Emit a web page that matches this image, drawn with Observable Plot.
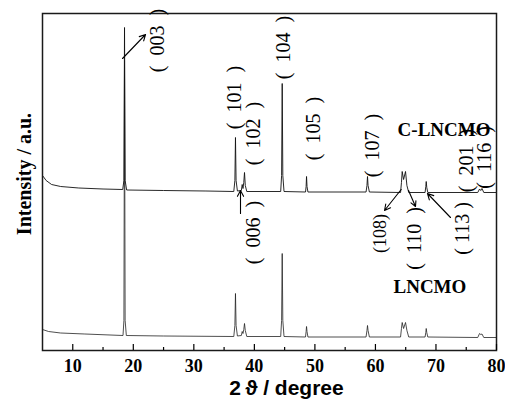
<!DOCTYPE html>
<html>
<head>
<meta charset="utf-8">
<script src="https://cdn.jsdelivr.net/npm/d3@7"></script>
<script src="https://cdn.jsdelivr.net/npm/@observablehq/plot@0.6"></script>
<style>
  html, body { margin: 0; padding: 0; background: #fff; }
  #chart { width: 505px; height: 402px; }
</style>
</head>
<body>
<div id="chart"></div>
<script>
// ---- data (2θ in degrees, intensity in arbitrary units) ----
const xTicks = [10, 20, 30, 40, 50, 60, 70, 80];
const xMinorTicks = [15, 25, 35, 45, 55, 65, 75];

// C-LNCMO pattern (upper trace)
const cLncmo = [
  [5.0, 175], [5.6, 170], [6.5, 166], [8, 164], [11, 162.5], [15, 161.5],
  [18.25, 161], [18.45, 170], [18.55, 323], [18.65, 170], [18.9, 160.5],
  [25, 160], [32, 159.5],
  [36.6, 159], [36.78, 170], [36.88, 213], [36.98, 170], [37.2, 159.5],
  [37.85, 160], [37.99, 166], [38.12, 162], [38.25, 168], [38.37, 178], [38.5, 165], [38.75, 159],
  [44.35, 159], [44.5, 175], [44.6, 267], [44.7, 175], [44.9, 159],
  [48.45, 158.5], [48.55, 164], [48.62, 174], [48.7, 164], [48.85, 158.5],
  [58.45, 158.5], [58.6, 165], [58.69, 174], [58.78, 165], [59.0, 158.5],
  [64.15, 158], [64.3, 168], [64.42, 179], [64.65, 171], [64.97, 179], [65.2, 165], [65.5, 158],
  [68.2, 158], [68.32, 164], [68.39, 169], [68.48, 163], [68.65, 158],
  [76.9, 158], [77.2, 161.5], [77.4, 160], [77.6, 162], [77.9, 158], [80, 158]
];

// LNCMO pattern (lower trace)
const lncmo = [
  [5.0, 21], [6, 19], [8, 17.5], [12, 16.5],
  [18.3, 15], [18.45, 30], [18.55, 290], [18.65, 30], [18.85, 15],
  [25, 14.5],
  [36.6, 14], [36.78, 25], [36.88, 57], [36.98, 25], [37.2, 14.5],
  [37.85, 15], [37.99, 19], [38.12, 17], [38.25, 21], [38.37, 27], [38.5, 20], [38.75, 14],
  [44.35, 14], [44.5, 30], [44.6, 97], [44.7, 30], [44.9, 14],
  [48.45, 13.5], [48.55, 19], [48.62, 24], [48.7, 19], [48.85, 13.5],
  [58.45, 13.5], [58.6, 20], [58.69, 25], [58.78, 20], [59.0, 13.5],
  [64.15, 13.5], [64.3, 22], [64.42, 28], [64.65, 22], [64.97, 28], [65.2, 20], [65.5, 13.5],
  [68.2, 13.5], [68.32, 18], [68.39, 22], [68.48, 18], [68.65, 13.5],
  [76.9, 13], [77.2, 17], [77.4, 16], [77.6, 16.5], [77.9, 13], [80, 13]
];

// Miller index labels
const hklText = ["(\u2002003\u2002)", "(\u2002101\u2002)", "(\u2002102\u2002)", "(\u2002104\u2002)",
                 "(\u2002105\u2002)", "(\u2002107\u2002)", "(\u2002201\u2002)", "(\u2002116\u2002)",
                 "(\u2002006\u2002)", "(\u2002110\u2002)", "( 113 )"];
const hklX = [24.0, 36.8, 39.86, 44.82, 49.77, 59.52, 75.05, 78.0, 39.86, 66.46, 74.39];
const hklY = [310, 253, 217, 303, 222, 205, 190, 193, 118, 112, 122];
const smallHkl = [{t: "(108)", x: 60.84, y: 117}];

// sample names
const sampleNames = ["C-LNCMO", "LNCMO"];
const sampleX = [71.33, 69.0];
const sampleY = [221, 64];

// arrows [x1, y1, x2, y2] (head at second point)
const arrowList = [
  [18.22, 292, 22.02, 316],
  [37.71, 137, 37.71, 160],
  [64.25, 161, 61.5, 140],
  [65.47, 160, 66.62, 144],
  [72.4, 133, 68.6, 157]
];

const hkl = hklText.map((t, i) => ({t, x: hklX[i], y: hklY[i]}));
const samples = sampleNames.map((t, i) => ({t, x: sampleX[i], y: sampleY[i]}));
const arrows = arrowList.map(a => ({x1: a[0], y1: a[1], x2: a[2], y2: a[3]}));

const serif = "'Liberation Serif', 'Times New Roman', serif";

const svg = Plot.plot({
  width: 505,
  height: 402,
  marginLeft: 42,
  marginRight: 9,
  marginTop: 13,
  marginBottom: 52,
  x: {domain: [5, 80], label: null},
  y: {domain: [0, 337], axis: null},
  style: {fontFamily: serif, background: "#fff", color: "#000"},
  marks: [
    Plot.line(lncmo, {x: d => d[0], y: d => d[1], stroke: "#222", strokeWidth: 0.8}),
    Plot.line(cLncmo, {x: d => d[0], y: d => d[1], stroke: "#111", strokeWidth: 0.9}),
    Plot.frame({stroke: "#1a1a1a", strokeWidth: 1.5}),
    Plot.axisX({ticks: xTicks, tickSize: -6, tickFormat: () => "", label: null, strokeWidth: 1.2}),
    Plot.axisX({ticks: xMinorTicks, tickSize: -3, tickFormat: () => "", label: null, strokeWidth: 1.2}),
    Plot.axisX({ticks: xTicks, tickSize: 0, tickPadding: 9, label: null,
                fontSize: 18, fontWeight: "bold", fontFamily: serif}),
    Plot.text(hkl, {x: "x", y: "y", text: "t", rotate: -90, fontSize: 20, fontFamily: serif, fill: "#000"}),
    Plot.text(smallHkl, {x: "x", y: "y", text: "t", rotate: -90, fontSize: 18, fontFamily: serif, fill: "#000"}),
    Plot.text(samples, {x: "x", y: "y", text: "t", fontSize: 19, fontWeight: "bold", fontFamily: serif, fill: "#000"}),
    Plot.arrow(arrows, {x1: "x1", y1: "y1", x2: "x2", y2: "y2", stroke: "#000", strokeWidth: 1.1, headLength: 9, headAngle: 55})
  ]
});

const s = d3.select(svg);
s.append("text")
  .attr("x", 286.5).attr("y", 395)
  .attr("text-anchor", "middle")
  .style("font-family", "'Liberation Sans', Arial, sans-serif")
  .style("font-weight", "bold")
  .style("font-size", "21px")
  .attr("fill", "#000")
  .text("2\u2009\u03D1 / degree");
s.append("text")
  .attr("transform", "translate(31,174) rotate(-90)")
  .attr("text-anchor", "middle")
  .style("font-family", serif)
  .style("font-weight", "bold")
  .style("font-size", "20px")
  .attr("fill", "#000")
  .text("Intensity / a.u.");

document.getElementById("chart").appendChild(svg);
</script>
</body>
</html>
